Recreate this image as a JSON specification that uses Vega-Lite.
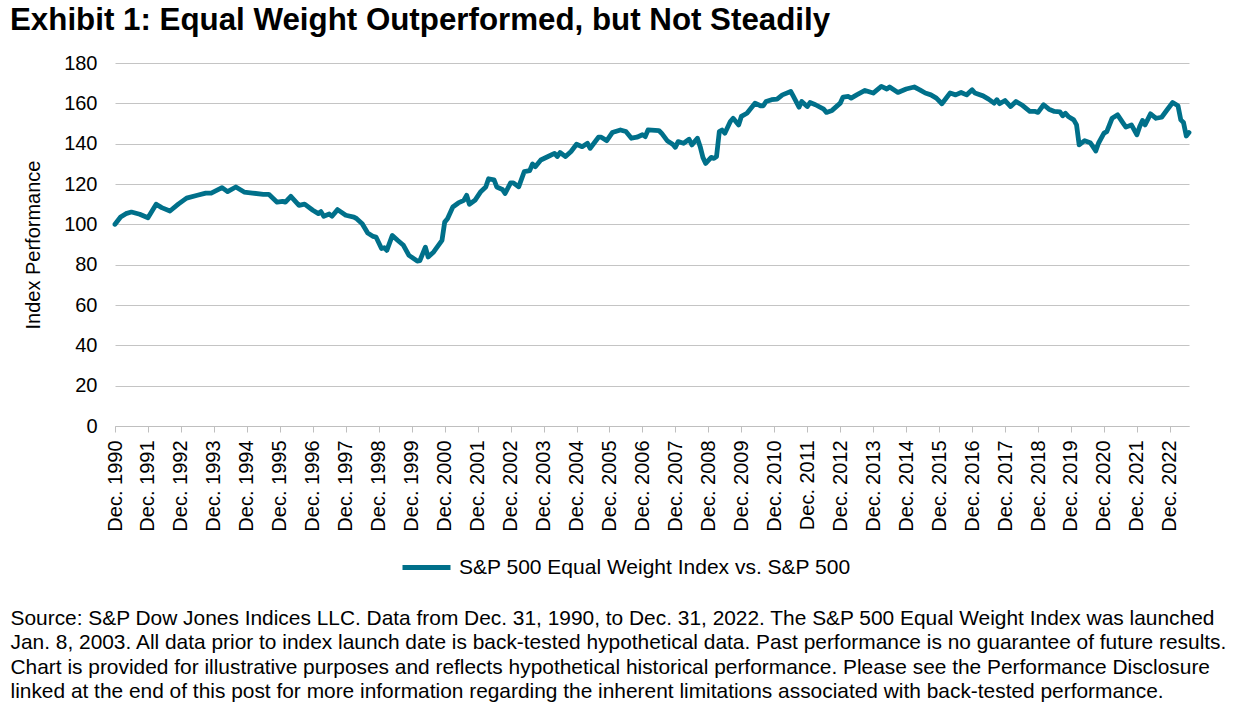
{
  "$schema": "https://vega.github.io/schema/vega-lite/v6.json",
  "autosize": {"type": "none"},
  "width": 1074,
  "height": 363,
  "padding": {"left": 115, "top": 63, "right": 56, "bottom": 277},
  "background": "white",
  "config": {
    "font": "Liberation Sans",
    "view": {"stroke": null},
    "axis": {"labelColor": "#000000", "titleColor": "#000000"}
  },
  "title": {
    "text": "Exhibit 1: Equal Weight Outperformed, but Not Steadily",
    "anchor": "start",
    "frame": "group",
    "dx": -105,
    "offset": 17,
    "fontSize": 31.3,
    "fontWeight": "bold",
    "color": "#000000",
    "font": "Liberation Sans"
  },
  "data": {
    "values": [
      {"date": "1990-12-01", "value": 100},
      {"date": "1991-02-01", "value": 103.6},
      {"date": "1991-04-01", "value": 105.3},
      {"date": "1991-06-01", "value": 106.1},
      {"date": "1991-09-01", "value": 105},
      {"date": "1991-12-01", "value": 103.3},
      {"date": "1992-03-01", "value": 110},
      {"date": "1992-05-01", "value": 108.3},
      {"date": "1992-08-01", "value": 106.6},
      {"date": "1992-11-01", "value": 110},
      {"date": "1993-02-01", "value": 113},
      {"date": "1993-06-01", "value": 114.4},
      {"date": "1993-09-01", "value": 115.5},
      {"date": "1993-11-01", "value": 115.5},
      {"date": "1994-03-01", "value": 118.2},
      {"date": "1994-05-01", "value": 116.2},
      {"date": "1994-08-01", "value": 118.5},
      {"date": "1994-11-01", "value": 116},
      {"date": "1995-02-01", "value": 115.5},
      {"date": "1995-06-01", "value": 114.9},
      {"date": "1995-08-01", "value": 114.9},
      {"date": "1995-11-01", "value": 111},
      {"date": "1996-01-01", "value": 111.4},
      {"date": "1996-02-01", "value": 111},
      {"date": "1996-04-01", "value": 113.9},
      {"date": "1996-07-01", "value": 109.4},
      {"date": "1996-09-01", "value": 110},
      {"date": "1996-12-01", "value": 107},
      {"date": "1997-02-01", "value": 105.3},
      {"date": "1997-03-01", "value": 106.3},
      {"date": "1997-04-01", "value": 104},
      {"date": "1997-06-01", "value": 105.1},
      {"date": "1997-07-01", "value": 104},
      {"date": "1997-09-01", "value": 107.3},
      {"date": "1997-12-01", "value": 104.5},
      {"date": "1998-03-01", "value": 103.6},
      {"date": "1998-04-01", "value": 102.8},
      {"date": "1998-06-01", "value": 100.3},
      {"date": "1998-08-01", "value": 95.7},
      {"date": "1998-10-01", "value": 94},
      {"date": "1998-11-01", "value": 93.7},
      {"date": "1999-01-01", "value": 88},
      {"date": "1999-02-01", "value": 88.4},
      {"date": "1999-03-01", "value": 87.1},
      {"date": "1999-05-01", "value": 94.5},
      {"date": "1999-07-01", "value": 92},
      {"date": "1999-09-01", "value": 89.6},
      {"date": "1999-11-01", "value": 84.6},
      {"date": "2000-02-01", "value": 81.8},
      {"date": "2000-03-01", "value": 82},
      {"date": "2000-05-01", "value": 88.7},
      {"date": "2000-06-01", "value": 83.8},
      {"date": "2000-08-01", "value": 86.3},
      {"date": "2000-11-01", "value": 92},
      {"date": "2000-12-01", "value": 101.1},
      {"date": "2001-01-01", "value": 102.8},
      {"date": "2001-03-01", "value": 108.6},
      {"date": "2001-05-01", "value": 110.6},
      {"date": "2001-07-01", "value": 111.9},
      {"date": "2001-08-01", "value": 114.4},
      {"date": "2001-09-01", "value": 110},
      {"date": "2001-11-01", "value": 111.9},
      {"date": "2002-01-01", "value": 116},
      {"date": "2002-03-01", "value": 118.5},
      {"date": "2002-04-01", "value": 122.6},
      {"date": "2002-06-01", "value": 122.1},
      {"date": "2002-07-01", "value": 118.5},
      {"date": "2002-09-01", "value": 117.3},
      {"date": "2002-10-01", "value": 115.3},
      {"date": "2002-12-01", "value": 120.6},
      {"date": "2003-01-01", "value": 120.6},
      {"date": "2003-03-01", "value": 118.6},
      {"date": "2003-05-01", "value": 126.1},
      {"date": "2003-07-01", "value": 126.6},
      {"date": "2003-08-01", "value": 129.9},
      {"date": "2003-09-01", "value": 128.6},
      {"date": "2003-11-01", "value": 131.9},
      {"date": "2004-02-01", "value": 133.9},
      {"date": "2004-04-01", "value": 135.2},
      {"date": "2004-05-01", "value": 133.6},
      {"date": "2004-06-01", "value": 135.6},
      {"date": "2004-08-01", "value": 133.6},
      {"date": "2004-10-01", "value": 136.1},
      {"date": "2004-12-01", "value": 139.7},
      {"date": "2005-02-01", "value": 138.5},
      {"date": "2005-04-01", "value": 140.2},
      {"date": "2005-05-01", "value": 137.7},
      {"date": "2005-08-01", "value": 143.2},
      {"date": "2005-09-01", "value": 143.2},
      {"date": "2005-11-01", "value": 141.5},
      {"date": "2006-01-01", "value": 145.5},
      {"date": "2006-04-01", "value": 146.8},
      {"date": "2006-06-01", "value": 146},
      {"date": "2006-08-01", "value": 142.7},
      {"date": "2006-10-01", "value": 143.2},
      {"date": "2006-12-01", "value": 144.4},
      {"date": "2007-01-01", "value": 143.5},
      {"date": "2007-02-01", "value": 146.8},
      {"date": "2007-06-01", "value": 146.5},
      {"date": "2007-07-01", "value": 145.2},
      {"date": "2007-09-01", "value": 141.5},
      {"date": "2007-11-01", "value": 139.7},
      {"date": "2007-12-01", "value": 138.2},
      {"date": "2008-01-01", "value": 141},
      {"date": "2008-03-01", "value": 140.2},
      {"date": "2008-05-01", "value": 142.2},
      {"date": "2008-06-01", "value": 139.4},
      {"date": "2008-08-01", "value": 142.7},
      {"date": "2008-09-01", "value": 138.5},
      {"date": "2008-10-01", "value": 133.2},
      {"date": "2008-11-01", "value": 130.2},
      {"date": "2009-01-01", "value": 133.2},
      {"date": "2009-02-01", "value": 132.7},
      {"date": "2009-03-01", "value": 133.6},
      {"date": "2009-04-01", "value": 146},
      {"date": "2009-05-01", "value": 146.8},
      {"date": "2009-06-01", "value": 145.2},
      {"date": "2009-08-01", "value": 151},
      {"date": "2009-09-01", "value": 152.6},
      {"date": "2009-11-01", "value": 149.3},
      {"date": "2009-12-01", "value": 153.5},
      {"date": "2010-02-01", "value": 155.1},
      {"date": "2010-05-01", "value": 160.1},
      {"date": "2010-07-01", "value": 158.8},
      {"date": "2010-08-01", "value": 158.8},
      {"date": "2010-09-01", "value": 160.9},
      {"date": "2010-11-01", "value": 161.8},
      {"date": "2011-01-01", "value": 162.1},
      {"date": "2011-03-01", "value": 164.2},
      {"date": "2011-06-01", "value": 165.9},
      {"date": "2011-07-01", "value": 163.4},
      {"date": "2011-09-01", "value": 158.1},
      {"date": "2011-10-01", "value": 160.9},
      {"date": "2011-12-01", "value": 158.4},
      {"date": "2012-01-01", "value": 160.4},
      {"date": "2012-03-01", "value": 159.3},
      {"date": "2012-06-01", "value": 157.1},
      {"date": "2012-07-01", "value": 155.5},
      {"date": "2012-09-01", "value": 156.5},
      {"date": "2012-12-01", "value": 160.1},
      {"date": "2013-01-01", "value": 163.1},
      {"date": "2013-03-01", "value": 163.4},
      {"date": "2013-04-01", "value": 162.6},
      {"date": "2013-06-01", "value": 164.2},
      {"date": "2013-09-01", "value": 166.4},
      {"date": "2013-12-01", "value": 165.1},
      {"date": "2014-03-01", "value": 168.4},
      {"date": "2014-05-01", "value": 167.1},
      {"date": "2014-06-01", "value": 168.1},
      {"date": "2014-09-01", "value": 165.4},
      {"date": "2014-12-01", "value": 167.1},
      {"date": "2015-03-01", "value": 168.1},
      {"date": "2015-05-01", "value": 166.7},
      {"date": "2015-07-01", "value": 165.1},
      {"date": "2015-09-01", "value": 164.2},
      {"date": "2015-11-01", "value": 162.6},
      {"date": "2016-01-01", "value": 159.8},
      {"date": "2016-04-01", "value": 165.1},
      {"date": "2016-06-01", "value": 164.2},
      {"date": "2016-08-01", "value": 165.4},
      {"date": "2016-10-01", "value": 164.2},
      {"date": "2016-12-01", "value": 166.7},
      {"date": "2017-01-01", "value": 165.1},
      {"date": "2017-04-01", "value": 163.7},
      {"date": "2017-06-01", "value": 162.1},
      {"date": "2017-08-01", "value": 160.1},
      {"date": "2017-09-01", "value": 161.8},
      {"date": "2017-10-01", "value": 159.8},
      {"date": "2017-12-01", "value": 161.4},
      {"date": "2018-02-01", "value": 158.4},
      {"date": "2018-04-01", "value": 160.9},
      {"date": "2018-06-01", "value": 159.3},
      {"date": "2018-09-01", "value": 156},
      {"date": "2018-11-01", "value": 156},
      {"date": "2018-12-01", "value": 155.5},
      {"date": "2019-02-01", "value": 159.3},
      {"date": "2019-04-01", "value": 157.1},
      {"date": "2019-06-01", "value": 156},
      {"date": "2019-08-01", "value": 155.8},
      {"date": "2019-09-01", "value": 153.8},
      {"date": "2019-10-01", "value": 155.1},
      {"date": "2019-11-01", "value": 153.5},
      {"date": "2020-01-01", "value": 151.8},
      {"date": "2020-02-01", "value": 149.3},
      {"date": "2020-03-01", "value": 139.4},
      {"date": "2020-05-01", "value": 141.5},
      {"date": "2020-07-01", "value": 140.5},
      {"date": "2020-08-01", "value": 138.5},
      {"date": "2020-09-01", "value": 136.4},
      {"date": "2020-10-01", "value": 140.2},
      {"date": "2020-12-01", "value": 145.2},
      {"date": "2021-01-01", "value": 146},
      {"date": "2021-03-01", "value": 152.6},
      {"date": "2021-04-01", "value": 153.5},
      {"date": "2021-05-01", "value": 154.3},
      {"date": "2021-07-01", "value": 150.2},
      {"date": "2021-08-01", "value": 148.2},
      {"date": "2021-10-01", "value": 149.3},
      {"date": "2021-12-01", "value": 144.4},
      {"date": "2022-01-01", "value": 148.5},
      {"date": "2022-02-01", "value": 151.5},
      {"date": "2022-03-01", "value": 149.3},
      {"date": "2022-05-01", "value": 154.8},
      {"date": "2022-07-01", "value": 152.6},
      {"date": "2022-09-01", "value": 153.1},
      {"date": "2022-11-01", "value": 156.8},
      {"date": "2023-01-01", "value": 160.4},
      {"date": "2023-03-01", "value": 158.8},
      {"date": "2023-04-01", "value": 151.8},
      {"date": "2023-05-01", "value": 150.5},
      {"date": "2023-06-01", "value": 143.8},
      {"date": "2023-07-01", "value": 145.5}
    ]
  },
  "mark": {"type": "line", "strokeWidth": 4.8, "strokeJoin": "round", "strokeCap": "round"},
  "encoding": {
    "x": {
      "field": "date",
      "type": "temporal",
      "scale": {"type": "utc", "domain": [{"year": 1990, "month": 12, "date": 1, "utc": true}, {"year": 2023, "month": 7, "date": 1, "utc": true}]},
      "axis": {
        "values": [
          {"year": 1990, "month": 12, "date": 1, "utc": true},
          {"year": 1991, "month": 12, "date": 1, "utc": true},
          {"year": 1992, "month": 12, "date": 1, "utc": true},
          {"year": 1993, "month": 12, "date": 1, "utc": true},
          {"year": 1994, "month": 12, "date": 1, "utc": true},
          {"year": 1995, "month": 12, "date": 1, "utc": true},
          {"year": 1996, "month": 12, "date": 1, "utc": true},
          {"year": 1997, "month": 12, "date": 1, "utc": true},
          {"year": 1998, "month": 12, "date": 1, "utc": true},
          {"year": 1999, "month": 12, "date": 1, "utc": true},
          {"year": 2000, "month": 12, "date": 1, "utc": true},
          {"year": 2001, "month": 12, "date": 1, "utc": true},
          {"year": 2002, "month": 12, "date": 1, "utc": true},
          {"year": 2003, "month": 12, "date": 1, "utc": true},
          {"year": 2004, "month": 12, "date": 1, "utc": true},
          {"year": 2005, "month": 12, "date": 1, "utc": true},
          {"year": 2006, "month": 12, "date": 1, "utc": true},
          {"year": 2007, "month": 12, "date": 1, "utc": true},
          {"year": 2008, "month": 12, "date": 1, "utc": true},
          {"year": 2009, "month": 12, "date": 1, "utc": true},
          {"year": 2010, "month": 12, "date": 1, "utc": true},
          {"year": 2011, "month": 12, "date": 1, "utc": true},
          {"year": 2012, "month": 12, "date": 1, "utc": true},
          {"year": 2013, "month": 12, "date": 1, "utc": true},
          {"year": 2014, "month": 12, "date": 1, "utc": true},
          {"year": 2015, "month": 12, "date": 1, "utc": true},
          {"year": 2016, "month": 12, "date": 1, "utc": true},
          {"year": 2017, "month": 12, "date": 1, "utc": true},
          {"year": 2018, "month": 12, "date": 1, "utc": true},
          {"year": 2019, "month": 12, "date": 1, "utc": true},
          {"year": 2020, "month": 12, "date": 1, "utc": true},
          {"year": 2021, "month": 12, "date": 1, "utc": true},
          {"year": 2022, "month": 12, "date": 1, "utc": true}
        ],
        "format": "%b. %Y",
        "labelAngle": -90,
        "labelFontSize": 20,
        "labelPadding": 8,
        "labelFlush": false,
        "labelOverlap": false,
        "tickSize": 6,
        "tickColor": "#BFBFBF",
        "domainColor": "#BFBFBF",
        "grid": false,
        "title": [
          "Source: S&P Dow Jones Indices LLC. Data from Dec. 31, 1990, to Dec. 31, 2022. The S&P 500 Equal Weight Index was launched",
          "Jan. 8, 2003. All data prior to index launch date is back-tested hypothetical data. Past performance is no guarantee of future results.",
          "Chart is provided for illustrative purposes and reflects hypothetical historical performance. Please see the Performance Disclosure",
          "linked at the end of this post for more information regarding the inherent limitations associated with back-tested performance."
        ],
        "titleFontSize": 20.9,
        "titleFontWeight": "normal",
        "titleAnchor": "start",
        "titleAlign": "left",
        "titleBaseline": "top",
        "titleLineHeight": 24.5,
        "titleLimit": 1300,
        "titleX": -105,
        "titleY": 181
      }
    },
    "y": {
      "field": "value",
      "type": "quantitative",
      "scale": {"domain": [0, 180], "nice": false, "zero": true},
      "axis": {
        "values": [0, 20, 40, 60, 80, 100, 120, 140, 160, 180],
        "grid": true,
        "gridColor": "#C4C4C4",
        "gridWidth": 1,
        "domain": false,
        "ticks": false,
        "labelFontSize": 20,
        "labelPadding": 18,
        "title": "Index Performance",
        "titleFontSize": 20,
        "titleFontWeight": "normal",
        "titlePadding": 20
      }
    },
    "stroke": {
      "datum": "S&P 500 Equal Weight Index vs. S&P 500",
      "type": "nominal",
      "scale": {"range": ["#00708A"]},
      "legend": {
        "title": null,
        "orient": "none",
        "legendX": 285,
        "legendY": 478,
        "symbolType": "stroke",
        "symbolSize": 2304,
        "symbolStrokeWidth": 4.8,
        "labelFontSize": 21,
        "labelLimit": 700,
        "labelColor": "#000000",
        "labelOffset": 6
      }
    }
  }
}
